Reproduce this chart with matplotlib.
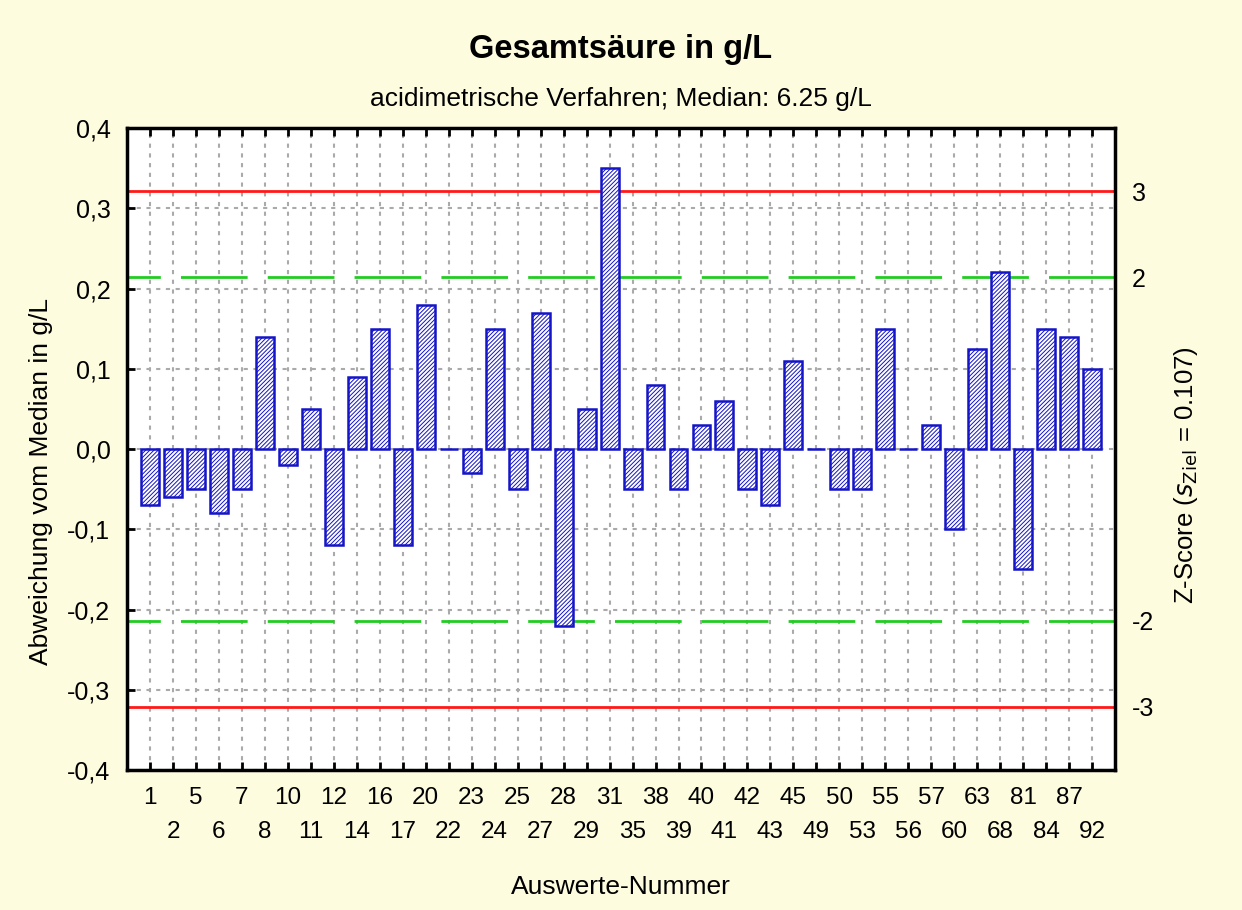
import numpy as np
import matplotlib
matplotlib.use("Agg")
import matplotlib.pyplot as plt

plt.rcParams['font.family'] = ['Liberation Sans', 'DejaVu Sans']
plt.rcParams['lines.scale_dashes'] = False
plt.rcParams['hatch.linewidth'] = 0.7

# Auswerte-Nummern und Abweichungen vom Median (g/L)
labs = [1, 2, 5, 6, 7, 8, 10, 11, 12, 14, 16, 17, 20, 22, 23, 24, 25, 27, 28, 29, 31,
        35, 38, 39, 40, 41, 42, 43, 45, 49, 50, 53, 55, 56, 57, 60, 63, 68, 81, 84, 87, 92]
dev = [-0.07, -0.06, -0.05, -0.08, -0.05, 0.14, -0.02, 0.05, -0.12, 0.09, 0.15, -0.12,
       0.18, 0.0, -0.03, 0.15, -0.05, 0.17, -0.22, 0.05, 0.35, -0.05, 0.08, -0.05, 0.03,
       0.06, -0.05, -0.07, 0.11, 0.0, -0.05, -0.05, 0.15, 0.0, 0.03, -0.10, 0.125, 0.22,
       -0.15, 0.15, 0.14, 0.10]
s_ziel = 0.107
yticks = [-0.4, -0.3, -0.2, -0.1, 0.0, 0.1, 0.2, 0.3, 0.4]
zticks = [-3, -2, 2, 3]

bg = '#fefcdf'
fig = plt.figure(figsize=(12.42, 9.10), dpi=100, facecolor=bg)
ax = fig.add_axes([0.1023, 0.1538, 0.7955, 0.7055])
ax.set_facecolor('white')

x = np.arange(len(labs))
ax.bar(x, dev, width=0.78, color='white', edgecolor='#1414c8', linewidth=1.8,
       hatch='////////', zorder=3)

# Grenzlinien
ax.axhline(3 * s_ziel, color='#ff1a1a', lw=2, zorder=2)
ax.axhline(-3 * s_ziel, color='#ff1a1a', lw=2, zorder=2)
for s in (2, -2):
    ax.axhline(s * s_ziel, color='#22cc22', lw=2, zorder=2,
               linestyle=(24, (48, 14.5)))

ax.set_xlim(-1, len(labs))
ax.set_ylim(-0.4, 0.4)
ax.set_yticks(yticks)
ax.set_yticklabels([f"{v:.1f}".replace('.', ',') for v in yticks], fontsize=18)
# Beschriftung in zwei Reihen: gerade Positionen oben, ungerade unten
ax.set_xticks(x[::2])
ax.set_xticklabels([str(l) for l in labs[::2]], fontsize=17.5)
ax.set_xticks(x[1::2], minor=True)
ax.set_xticklabels([str(l) for l in labs[1::2]], minor=True, fontsize=17.5)
ax.tick_params(which='both', direction='in', length=6, width=2, top=True, right=True)
ax.tick_params(axis='x', which='major', pad=12)
ax.tick_params(axis='x', which='minor', pad=37)
ax.tick_params(axis='y', pad=12)
ax.grid(True, which='both', axis='x', color='#aaaaaa', linestyle=(0, (3, 4)), lw=1.5, zorder=1)
ax.grid(True, which='major', axis='y', color='#aaaaaa', linestyle=(0, (3, 4)), lw=1.5, zorder=1)
for sp in ax.spines.values():
    sp.set_linewidth(2.5)

ax.set_xlabel("Auswerte-Nummer", fontsize=19, labelpad=23)
ax.set_ylabel("Abweichung vom Median in g/L", fontsize=19)
ax.yaxis.set_label_coords(-0.075, 0.45)

ax2 = ax.twinx()
ax2.set_ylim(-0.4 / s_ziel, 0.4 / s_ziel)
ax2.set_yticks(zticks)
ax2.set_yticklabels([str(z) for z in zticks], fontsize=18)
ax2.tick_params(length=0, pad=12)
for sp in ax2.spines.values():
    sp.set_visible(False)
ax2.set_ylabel(r"Z-Score ($s_{\mathrm{Ziel}}$ = 0.107)", fontsize=18.5)
ax2.yaxis.set_label_coords(1.058, 0.46)

fig.text(0.5, 0.946, "Gesamtsäure in g/L", ha='center', va='center',
         fontsize=23.5, fontweight='bold')
fig.text(0.5, 0.891, "acidimetrische Verfahren; Median: 6.25 g/L", ha='center',
         va='center', fontsize=19)

fig.savefig("out.png", dpi=100, facecolor=bg)
